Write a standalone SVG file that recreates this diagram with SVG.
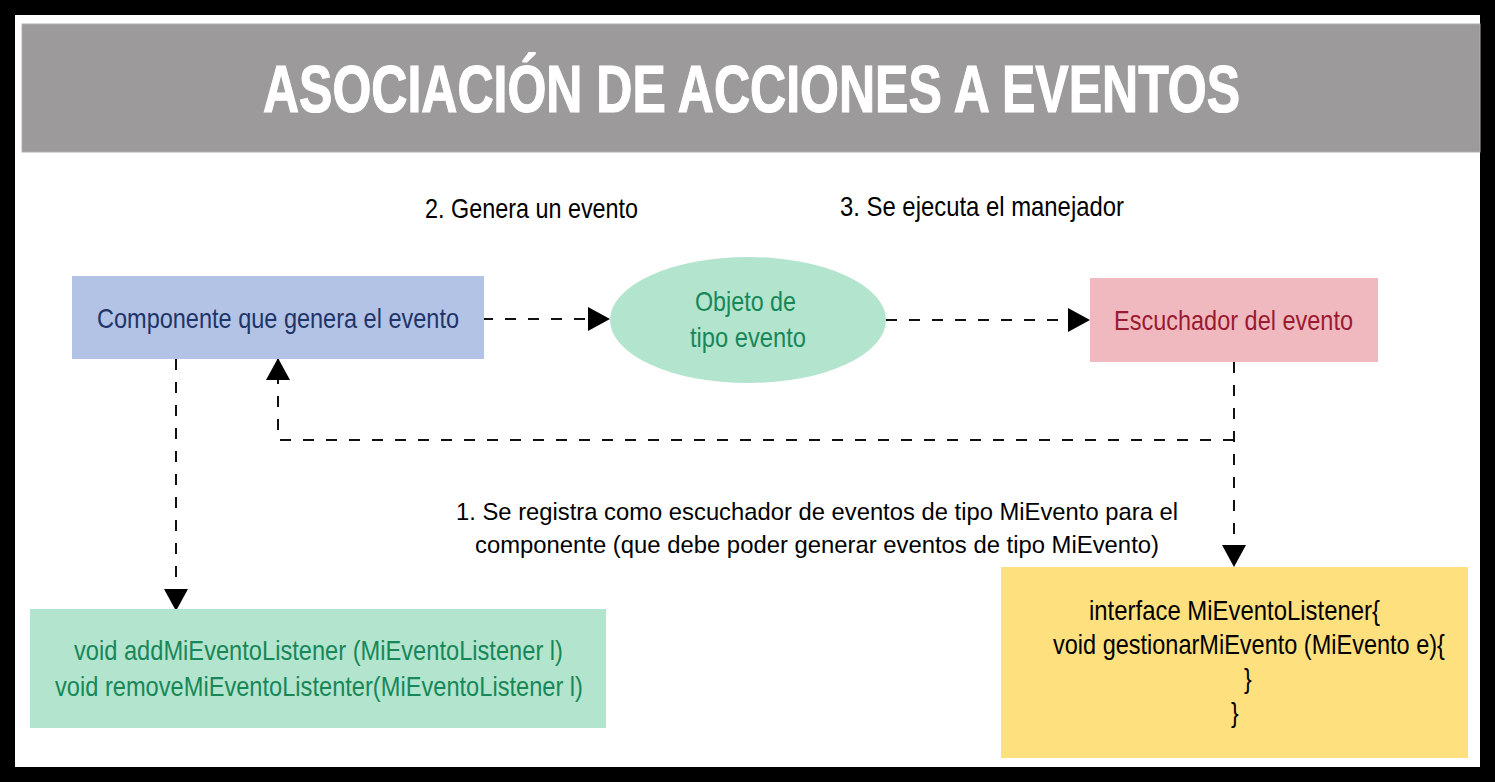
<svg xmlns="http://www.w3.org/2000/svg" width="1495" height="782" viewBox="0 0 1495 782">
  <defs>
    <style>
      .t { font-family: "Liberation Sans Narrow", "Liberation Sans", Arial, sans-serif; }
      .title { font-size: 67px; font-weight: bold; fill: #ffffff; stroke: #ffffff; stroke-width: 1.2; }
      .lbl { font-size: 27px; fill: #000000; }
      .lbl1 { font-size: 24px; fill: #000000; }
      .blue { font-size: 28px; fill: #1f3467; }
      .green { font-size: 28px; fill: #17875a; }
      .red { font-size: 28px; fill: #9a1b31; }
      .code { font-size: 28px; fill: #000000; }
      .conn { fill: none; stroke: #111111; stroke-width: 2; stroke-dasharray: 11 12; }
    </style>
    <marker id="ah" viewBox="0 0 22 24" refX="22" refY="12" markerWidth="22" markerHeight="24" markerUnits="userSpaceOnUse" orient="auto">
      <path d="M0,0 L22,12 L0,24 Z" fill="#000000"/>
    </marker>
  </defs>

  <!-- frame -->
  <rect x="0" y="0" width="1495" height="782" fill="#000000"/>
  <rect x="15" y="15" width="1465" height="752" fill="#ffffff"/>

  <g id="title">
    <rect x="22" y="24" width="1458" height="128" fill="#9c9a9a" stroke="#b2b0b0" stroke-width="1"/>
    <text class="t title" transform="translate(263,112) scale(0.68,1)" x="0" y="0" textLength="1436.8" lengthAdjust="spacingAndGlyphs">ASOCIACIÓN DE ACCIONES A EVENTOS</text>
  </g>

  <g id="connectors">
    <path class="conn" d="M482,319 H610" marker-end="url(#ah)"/>
    <path class="conn" d="M886,320 H1090" marker-end="url(#ah)"/>
    <path class="conn" d="M1234,362 V567" marker-end="url(#ah)"/>
    <path class="conn" d="M1234,440 H278 V358" marker-end="url(#ah)"/>
    <path class="conn" d="M176,359 V611" marker-end="url(#ah)"/>
  </g>

  <g id="label-genera">
    <text class="t lbl" transform="translate(425,218) scale(0.82,1)" x="0" y="0" textLength="259.8" lengthAdjust="spacingAndGlyphs">2. Genera un evento</text>
  </g>
  <g id="label-ejecuta">
    <text class="t lbl" transform="translate(840,216) scale(0.82,1)" x="0" y="0" textLength="346.3" lengthAdjust="spacingAndGlyphs">3. Se ejecuta el manejador</text>
  </g>
  <g id="label-registra">
    <text class="t lbl1" transform="translate(456,520) scale(0.82,1)" x="0" y="0" textLength="880.5" lengthAdjust="spacingAndGlyphs">1. Se registra como escuchador de eventos de tipo MiEvento para el</text>
    <text class="t lbl1" transform="translate(475,553) scale(0.82,1)" x="0" y="0" textLength="834.1" lengthAdjust="spacingAndGlyphs">componente (que debe poder generar eventos de tipo MiEvento)</text>
  </g>

  <g id="componente">
    <rect x="72" y="276" width="412" height="83" fill="#b3c3e6"/>
    <text class="t blue" transform="translate(97,328) scale(0.82,1)" x="0" y="0" textLength="441.5" lengthAdjust="spacingAndGlyphs">Componente que genera el evento</text>
  </g>

  <g id="objeto-evento">
    <ellipse cx="748" cy="320" rx="138" ry="63" fill="#b3e4cd"/>
    <text class="t green" transform="translate(695,311) scale(0.82,1)" x="0" y="0" textLength="123.2" lengthAdjust="spacingAndGlyphs">Objeto de</text>
    <text class="t green" transform="translate(690,347) scale(0.82,1)" x="0" y="0" textLength="141.5" lengthAdjust="spacingAndGlyphs">tipo evento</text>
  </g>

  <g id="escuchador">
    <rect x="1090" y="278" width="288" height="84" fill="#f0b9c0"/>
    <text class="t red" transform="translate(1114,330) scale(0.82,1)" x="0" y="0" textLength="291.5" lengthAdjust="spacingAndGlyphs">Escuchador del evento</text>
  </g>

  <g id="metodos">
    <rect x="30" y="609" width="576" height="119" fill="#b3e4cd"/>
    <text class="t green" transform="translate(74,660) scale(0.82,1)" x="0" y="0" textLength="596.3" lengthAdjust="spacingAndGlyphs">void addMiEventoListener (MiEventoListener l)</text>
    <text class="t green" transform="translate(55,696) scale(0.82,1)" x="0" y="0" textLength="643.9" lengthAdjust="spacingAndGlyphs">void removeMiEventoListenter(MiEventoListener l)</text>
  </g>

  <g id="interfaz">
    <rect x="1001" y="567" width="467" height="191" fill="#ffe07f"/>
    <text class="t code" transform="translate(1089,620) scale(0.82,1)" x="0" y="0" textLength="354.9" lengthAdjust="spacingAndGlyphs">interface MiEventoListener{</text>
    <text class="t code" transform="translate(1053,654) scale(0.82,1)" x="0" y="0" textLength="478" lengthAdjust="spacingAndGlyphs">void gestionarMiEvento (MiEvento e){</text>
    <text class="t code" transform="translate(1244,688) scale(0.82,1)" x="0" y="0">}</text>
    <text class="t code" transform="translate(1231,722) scale(0.82,1)" x="0" y="0">}</text>
  </g>
</svg>
